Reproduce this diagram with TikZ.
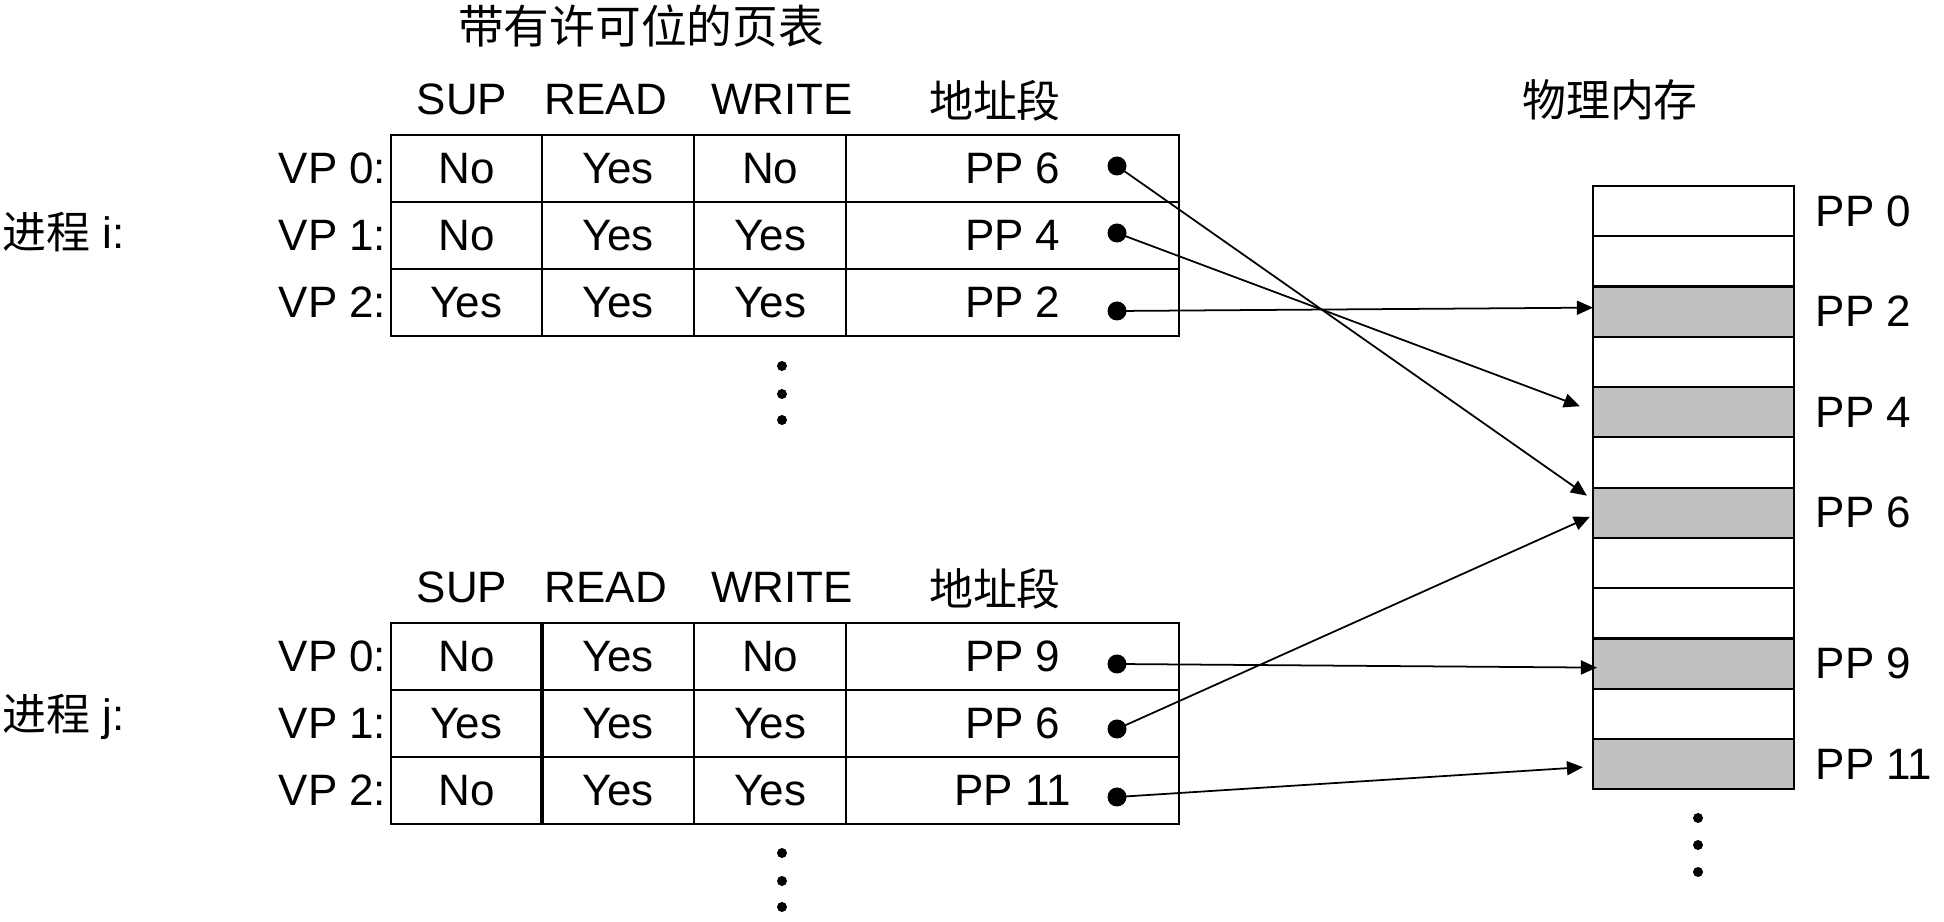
\documentclass[tikz,border=0pt]{standalone}
\usepackage{fontspec}
\setmainfont{Liberation Sans}
\newfontfamily\cjk{Noto Sans CJK SC}
\usepackage{xcolor}
\usepackage{tikz}
\usetikzlibrary{arrows.meta, positioning, calc}

\definecolor{usedgray}{HTML}{C0C0C0}

\begin{document}
\begin{tikzpicture}[x=0.01cm, y=-0.01cm,
        font=\fontsize{12.5}{15}\selectfont,
        cell/.style={rectangle, draw=black, line width=0.6pt, inner sep=0pt, outer sep=0pt, minimum height=0.67cm},
        pagebox/.style={rectangle, draw=black, line width=0.6pt, fill=white, inner sep=0pt, outer sep=0pt, minimum width=2.01cm, minimum height=0.5025cm},
        usedpage/.style={pagebox, fill=usedgray},
        ptr/.style={circle, fill=black, inner sep=0pt, minimum size=0.19cm},
        lbl/.style={inner sep=0pt},
        arrow/.style={-{Triangle[length=1.6mm, width=1.4mm]}, line width=0.5pt}
    ]
    \useasboundingbox (0,0) rectangle (1944,922);

    \node (title) at (641,26) {\cjk\fontsize{13}{16}\selectfont 带有许可位的页表};
    \node (memtitle) at (1610,100) {\cjk 物理内存};

    % column headers of both tables
    \foreach \t/\y in {i/99, j/587} {
        \node (\t-hsup) at (462,\y) {SUP};
        \node (\t-hread) at (606,\y) {READ};
        \node (\t-hwrite) at (782,\y) {WRITE};
        \node (\t-haddr) at (995,\y+2) {\cjk 地址段};
    }

    % page table of process i
    \foreach \r/\s/\rd/\w/\p/\d in {0/No/Yes/No/6/-2.5, 1/No/Yes/Yes/4/-2.5, 2/Yes/Yes/Yes/2/8.5} {
        \node[cell, minimum width=1.51cm] (i-sup\r) at (466.5,{168.5+67*\r}) {\s};
        \node[cell, minimum width=1.52cm, right=0pt of i-sup\r] (i-read\r) {\rd};
        \node[cell, minimum width=1.52cm, right=0pt of i-read\r] (i-write\r) {\w};
        \node[cell, minimum width=3.33cm, right=0pt of i-write\r] (i-addr\r) {PP \p};
        \node[ptr] (i-dot\r) at (1117,{168.5+67*\r+\d}) {};
        \node[lbl, left=0.04cm of i-sup\r] (i-vp\r) {VP \r:};
    }

    % page table of process j
    \foreach \r/\s/\rd/\w/\p/\d in {0/No/Yes/No/9/7.5, 1/Yes/Yes/Yes/6/5.5, 2/No/Yes/Yes/11/6.5} {
        \node[cell, minimum width=1.51cm] (j-sup\r) at (466.5,{656.5+67*\r}) {\s};
        \node[cell, minimum width=1.52cm, right=0pt of j-sup\r] (j-read\r) {\rd};
        \node[cell, minimum width=1.52cm, right=0pt of j-read\r] (j-write\r) {\w};
        \node[cell, minimum width=3.33cm, right=0pt of j-write\r] (j-addr\r) {PP \p};
        \node[ptr] (j-dot\r) at (1117,{656.5+67*\r+\d}) {};
        \node[lbl, left=0.04cm of j-sup\r] (j-vp\r) {VP \r:};
    }
    \draw[line width=1pt] (j-sup0.north east) -- (j-sup2.south east);

    \node[lbl, anchor=west] (proc-i) at (2,232) {{\cjk 进程} i:};
    \node[lbl, anchor=west] (proc-j) at (2,717) {{\cjk 进程} j:};

    % physical memory
    \node[pagebox] (pp0) at (1693.5,211.1) {};
    \foreach \k/\st [remember=\k as \prev (initially 0)] in {1/pagebox, 2/usedpage, 3/pagebox, 4/usedpage,
            5/pagebox, 6/usedpage, 7/pagebox, 8/pagebox, 9/usedpage, 10/pagebox, 11/usedpage} {
        \node[\st, below=0pt of pp\prev] (pp\k) {};
    }
    \foreach \k in {0,2,4,6,9,11}
        \node[lbl, right=0.21cm of pp\k] (pp\k-lbl) {PP \k};

    % more entries
    \foreach \y in {366,394,420} \fill (782,\y) circle (0.05cm);
    \foreach \y in {853,881,907} \fill (782,\y) circle (0.05cm);
    \foreach \y in {818,845,872} \fill (1698,\y) circle (0.05cm);

    \draw[arrow] (i-dot0.center) -- ([shift={(-6,8)}]pp6.north west);
    \draw[arrow] (i-dot1.center) -- ([shift={(-13,-6)}]pp4.west);
    \draw[arrow] (i-dot2.center) -- ([shift={(0,-4)}]pp2.west);
    \draw[arrow] (j-dot0.center) -- ([shift={(4,4)}]pp9.west);
    \draw[arrow] (j-dot1.center) -- ([shift={(-3,4)}]pp6.west);
    \draw[arrow] (j-dot2.center) -- ([shift={(-10,3)}]pp11.west);
\end{tikzpicture}
\end{document}
